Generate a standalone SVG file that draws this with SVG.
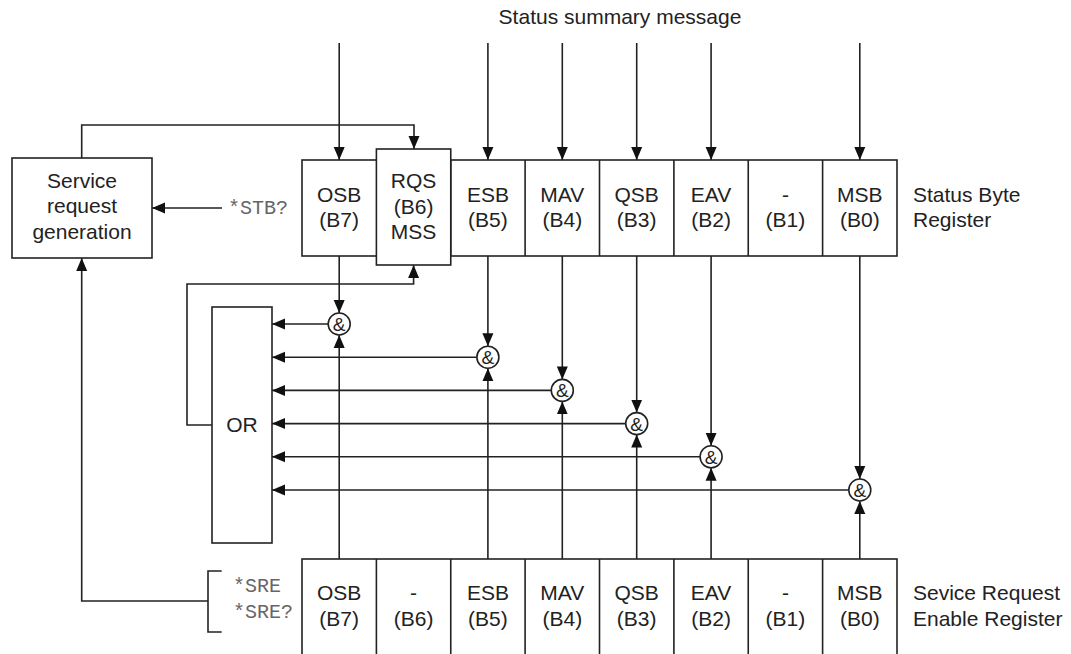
<svg xmlns="http://www.w3.org/2000/svg" width="1071" height="654" viewBox="0 0 1071 654">
<defs>
<style>
.ln{fill:none;stroke:#222;stroke-width:1.6}
.bx{fill:#fff;stroke:#222;stroke-width:1.6}
.t{font-family:"Liberation Sans",Arial,sans-serif;font-size:21px;fill:#222;text-anchor:middle}
.tl{font-family:"Liberation Sans",Arial,sans-serif;font-size:21px;fill:#222}
.m{font-family:"Liberation Mono","Courier New",monospace;font-size:20px;fill:#666}
.amp{font-family:"Liberation Sans",Arial,sans-serif;font-size:19px;fill:#222;text-anchor:middle}
.ar{marker-end:url(#ah)}
</style>
<marker id="ah" markerUnits="userSpaceOnUse" markerWidth="14" markerHeight="12" viewBox="0 0 14 12" refX="13" refY="6" orient="auto">
<path d="M0,0.5 L13,6 L0,11.5 z" fill="#111"/>
</marker>
</defs>
<rect width="1071" height="654" fill="#fff"/>

<text class="t" x="620" y="24">Status summary message</text>

<g id="connectors">
<line class="ln ar" x1="339.2" y1="43" x2="339.2" y2="160"/>
<line class="ln ar" x1="487.9" y1="43" x2="487.9" y2="160"/>
<line class="ln ar" x1="562.3" y1="43" x2="562.3" y2="160"/>
<line class="ln ar" x1="636.7" y1="43" x2="636.7" y2="160"/>
<line class="ln ar" x1="711.1" y1="43" x2="711.1" y2="160"/>
<line class="ln ar" x1="859.8" y1="43" x2="859.8" y2="160"/>
<path class="ln ar" d="M81.7,158 V125 H414 V149"/>
<line class="ln ar" x1="222" y1="208" x2="152" y2="208"/>
<path class="ln ar" d="M212,425 H187 V284 H413.6 V265"/>
<path class="ln ar" d="M208,601 H81.7 V258"/>
<path class="ln" d="M221.7,571 H208 V632 H221.7"/>
<line class="ln ar" x1="339.2" y1="256" x2="339.2" y2="313"/>
<line class="ln ar" x1="487.9" y1="256" x2="487.9" y2="346.2"/>
<line class="ln ar" x1="562.3" y1="256" x2="562.3" y2="379.4"/>
<line class="ln ar" x1="636.7" y1="256" x2="636.7" y2="412.6"/>
<line class="ln ar" x1="711.1" y1="256" x2="711.1" y2="445.8"/>
<line class="ln ar" x1="859.8" y1="256" x2="859.8" y2="479"/>
<line class="ln ar" x1="339.2" y1="559" x2="339.2" y2="335"/>
<line class="ln ar" x1="487.9" y1="559" x2="487.9" y2="368.2"/>
<line class="ln ar" x1="562.3" y1="559" x2="562.3" y2="401.4"/>
<line class="ln ar" x1="636.7" y1="559" x2="636.7" y2="434.6"/>
<line class="ln ar" x1="711.1" y1="559" x2="711.1" y2="467.8"/>
<line class="ln ar" x1="859.8" y1="559" x2="859.8" y2="501"/>
<line class="ln ar" x1="328.2" y1="324" x2="272" y2="324"/>
<line class="ln ar" x1="476.9" y1="357.2" x2="272" y2="357.2"/>
<line class="ln ar" x1="551.3" y1="390.4" x2="272" y2="390.4"/>
<line class="ln ar" x1="625.7" y1="423.6" x2="272" y2="423.6"/>
<line class="ln ar" x1="700.1" y1="456.8" x2="272" y2="456.8"/>
<line class="ln ar" x1="848.8" y1="490" x2="272" y2="490"/>
</g>

<g id="service">
<rect class="bx" x="12" y="158" width="140" height="100"/>
<text class="t" x="82" y="188">Service</text>
<text class="t" x="82" y="213">request</text>
<text class="t" x="82" y="239">generation</text>
</g>
<text id="stb" class="m" x="228" y="214">*STB?</text>

<g id="or">
<rect class="bx" x="212" y="307" width="60" height="236"/>
<text class="t" x="242" y="432">OR</text>
</g>

<g id="status-byte-register">
<rect class="bx" x="302" y="160" width="595" height="96"/>
<path class="ln" d="M450.75,160 V256 M525.1,160 V256 M599.5,160 V256 M673.9,160 V256 M748.25,160 V256 M822.6,160 V256"/>
<text class="t" x="339.2" y="202">OSB</text><text class="t" x="339.2" y="227">(B7)</text>
<text class="t" x="487.9" y="202">ESB</text><text class="t" x="487.9" y="227">(B5)</text>
<text class="t" x="562.3" y="202">MAV</text><text class="t" x="562.3" y="227">(B4)</text>
<text class="t" x="636.7" y="202">QSB</text><text class="t" x="636.7" y="227">(B3)</text>
<text class="t" x="711.1" y="202">EAV</text><text class="t" x="711.1" y="227">(B2)</text>
<text class="t" x="785.4" y="202">-</text><text class="t" x="785.4" y="227">(B1)</text>
<text class="t" x="859.8" y="202">MSB</text><text class="t" x="859.8" y="227">(B0)</text>
<text class="tl" x="913" y="202">Status Byte</text>
<text class="tl" x="913" y="227">Register</text>
</g>

<g id="rqs">
<rect class="bx" x="376.4" y="149" width="74.35" height="116"/>
<text class="t" x="413.6" y="188">RQS</text>
<text class="t" x="413.6" y="214">(B6)</text>
<text class="t" x="413.6" y="239">MSS</text>
</g>

<g id="gates">
<g id="and-b7"><circle class="bx" cx="339.2" cy="324" r="11"/><text class="amp" x="339.2" y="331">&amp;</text></g>
<g id="and-b5"><circle class="bx" cx="487.9" cy="357.2" r="11"/><text class="amp" x="487.9" y="364.2">&amp;</text></g>
<g id="and-b4"><circle class="bx" cx="562.3" cy="390.4" r="11"/><text class="amp" x="562.3" y="397.4">&amp;</text></g>
<g id="and-b3"><circle class="bx" cx="636.7" cy="423.6" r="11"/><text class="amp" x="636.7" y="430.6">&amp;</text></g>
<g id="and-b2"><circle class="bx" cx="711.1" cy="456.8" r="11"/><text class="amp" x="711.1" y="463.8">&amp;</text></g>
<g id="and-b0"><circle class="bx" cx="859.8" cy="490" r="11"/><text class="amp" x="859.8" y="497">&amp;</text></g>
</g>

<g id="enable-register">
<rect class="bx" x="302" y="559" width="595" height="100"/>
<path class="ln" d="M376.4,559 V660 M450.75,559 V660 M525.1,559 V660 M599.5,559 V660 M673.9,559 V660 M748.25,559 V660 M822.6,559 V660"/>
<text class="t" x="339.2" y="600">OSB</text><text class="t" x="339.2" y="626">(B7)</text>
<text class="t" x="413.6" y="600">-</text><text class="t" x="413.6" y="626">(B6)</text>
<text class="t" x="487.9" y="600">ESB</text><text class="t" x="487.9" y="626">(B5)</text>
<text class="t" x="562.3" y="600">MAV</text><text class="t" x="562.3" y="626">(B4)</text>
<text class="t" x="636.7" y="600">QSB</text><text class="t" x="636.7" y="626">(B3)</text>
<text class="t" x="711.1" y="600">EAV</text><text class="t" x="711.1" y="626">(B2)</text>
<text class="t" x="785.4" y="600">-</text><text class="t" x="785.4" y="626">(B1)</text>
<text class="t" x="859.8" y="600">MSB</text><text class="t" x="859.8" y="626">(B0)</text>
<text class="tl" x="913" y="600">Sevice Request</text>
<text class="tl" x="913" y="626">Enable Register</text>
</g>
<text id="sre" class="m" x="233" y="592">*SRE</text>
<text id="sre-q" class="m" x="233" y="618">*SRE?</text>
</svg>
